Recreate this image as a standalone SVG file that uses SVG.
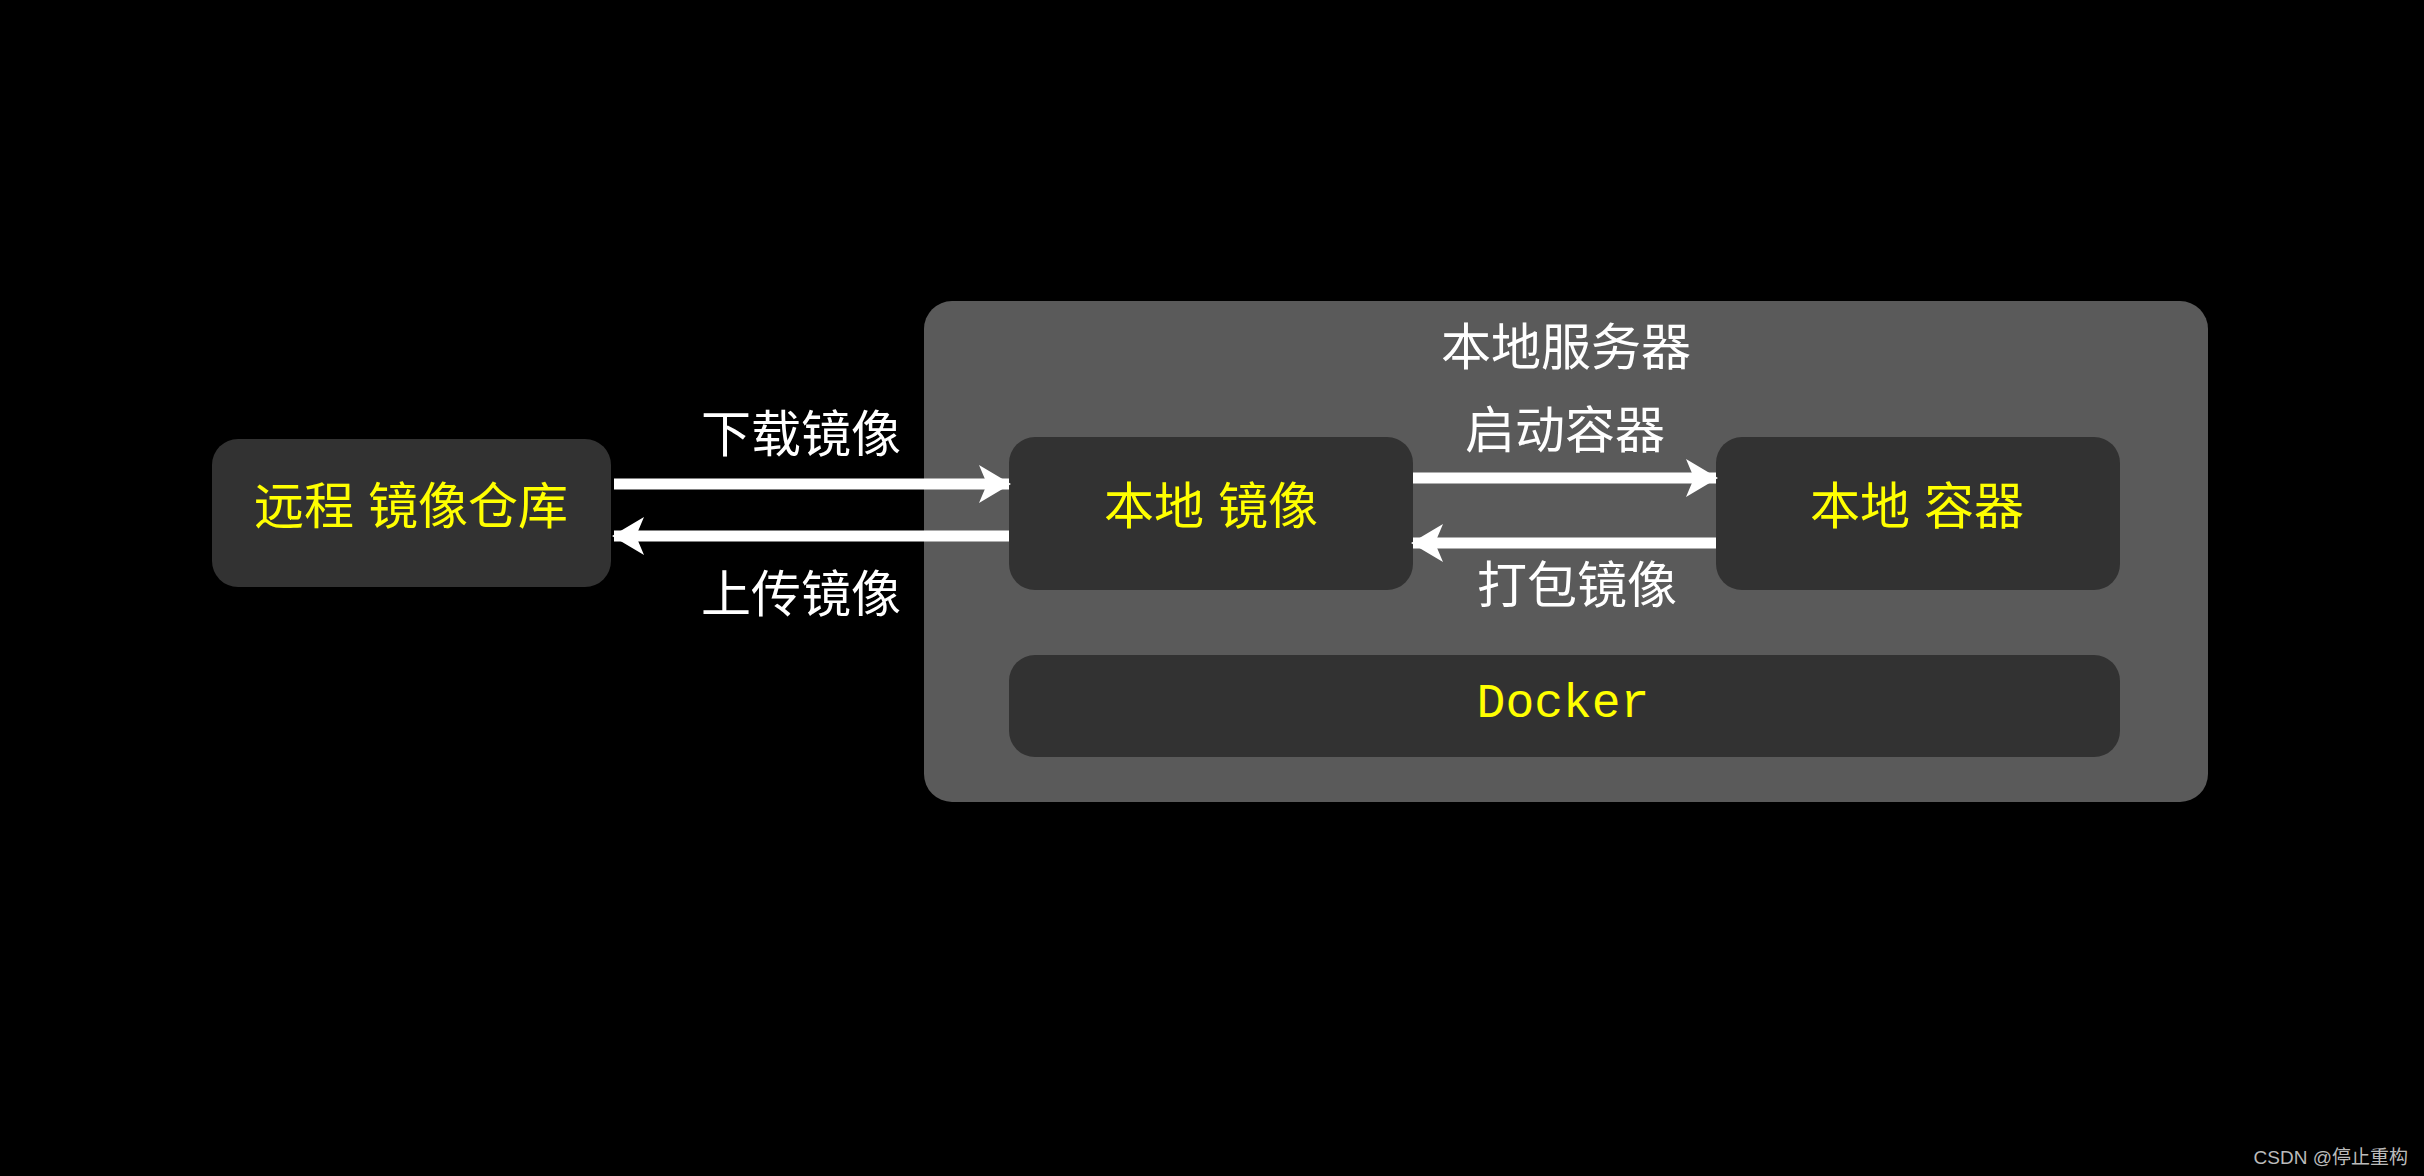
<svg xmlns="http://www.w3.org/2000/svg" width="2424" height="1176" viewBox="0 0 2424 1176">
<style>
.n{fill:#323232}
.y{fill:#ffff00;font-family:"Liberation Sans","Noto Sans CJK SC",sans-serif;font-size:50px;text-anchor:middle}
.w{fill:#ffffff;font-family:"Liberation Sans","Noto Sans CJK SC",sans-serif;font-size:50px;text-anchor:middle}
.c{stroke:#fff;stroke-width:11;fill:none}
</style>
<defs><marker id="a" markerUnits="userSpaceOnUse" markerWidth="32" markerHeight="38" refX="30" refY="19" orient="auto"><path d="M0,0 L32,19 L0,38 L8,19 Z" fill="#fff"/></marker></defs>
<rect width="2424" height="1176" fill="#000"/>
<g id="server"><rect x="924" y="301" width="1284" height="501" rx="28" fill="#5a5a5a"/><text class="w" x="1566" y="365" font-size="62">本地服务器</text></g>
<g id="remote"><rect class="n" x="212" y="439" width="399" height="148" rx="26"/><text class="y" x="411" y="524">远程 镜像仓库</text></g>
<g id="localimage"><rect class="n" x="1009" y="437" width="404" height="153" rx="26"/><text class="y" x="1211" y="524">本地 镜像</text></g>
<g id="container"><rect class="n" x="1716" y="437" width="404" height="153" rx="26"/><text class="y" x="1917" y="524">本地 容器</text></g>
<g id="docker"><rect class="n" x="1009" y="655" width="1111" height="102" rx="26"/><text class="y" x="1563" y="717" style="font-family:'Liberation Mono',monospace;font-size:48px">Docker</text></g>
<g id="connectors">
<line class="c" x1="614" y1="484" x2="1009" y2="484" marker-end="url(#a)"/>
<line class="c" x1="1009" y1="536" x2="614" y2="536" marker-end="url(#a)"/>
<line class="c" x1="1413" y1="478" x2="1716" y2="478" marker-end="url(#a)"/>
<line class="c" x1="1716" y1="543" x2="1413" y2="543" marker-end="url(#a)"/>
<text class="w" x="801" y="452">下载镜像</text>
<text class="w" x="801" y="612">上传镜像</text>
<text class="w" x="1565" y="448">启动容器</text>
<text class="w" x="1577" y="603">打包镜像</text>
</g>
<text x="2408" y="1164" fill="#bbb" font-family="'Liberation Sans','Noto Sans CJK SC',sans-serif" font-size="19" text-anchor="end">CSDN @停止重构</text>
</svg>
